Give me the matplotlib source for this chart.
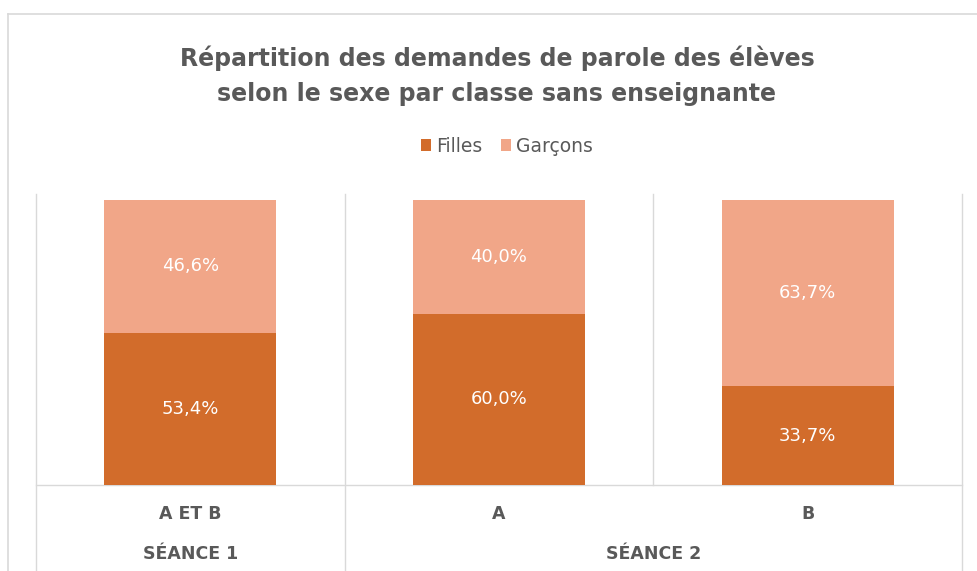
import matplotlib
matplotlib.use("Agg")
import matplotlib.pyplot as plt
from matplotlib.lines import Line2D
import matplotlib.transforms as mtrans
import numpy as np

# ---- data ----
categories = ["A ET B", "A", "B"]
groups = ["SÉANCE 1", "SÉANCE 2"]
group_spans = [(0, 0), (1, 2)]
series_names = ["Filles", "Garçons"]
filles = [53.4, 60.0, 33.7]
garcons = [46.6, 40.0, 63.7]
title = "Répartition des demandes de parole des élèves\nselon le sexe par classe sans enseignante"

# ---- style ----
C_F = "#D26C2B"
C_G = "#F1A688"
TXT = "#595959"
GRID = "#D9D9D9"

W, H = 977, 571
fig = plt.figure(figsize=(W / 100, H / 100), dpi=100)
fig.patch.set_facecolor("white")

x0, x1 = 36, 962
ytop, ybot = 200, 485
ax = fig.add_axes([x0 / W, 1 - ybot / H, (x1 - x0) / W, (ybot - ytop) / H])
ax.set_xlim(-0.5, 2.5)
ax.set_ylim(0, 1)
ax.axis("off")

f = np.array(filles)
g = np.array(garcons)
tot = f + g
fn = f / tot
gn = g / tot
x = np.arange(len(categories))
bw = 0.557
b1 = ax.bar(x, fn, bw, color=C_F, label=series_names[0], zorder=3)
b2 = ax.bar(x, gn, bw, bottom=fn, color=C_G, label=series_names[1], zorder=3)

def fmt(v):
    return f"{v:.1f}%".replace(".", ",")

for xi, a, b, va, vb in zip(x, fn, gn, f, g):
    ax.text(xi, a / 2, fmt(va), ha="center", va="center", color="white",
            fontsize=13, zorder=4)
    ax.text(xi, a + b / 2, fmt(vb), ha="center", va="center", color="white",
            fontsize=13, zorder=4)

# separators and axis line
trans = mtrans.blended_transform_factory(ax.transData, ax.transAxes)
ph = ybot - ytop
y_up = 1 + 6 / ph
y_fig_bottom = -(H - ybot) / ph
for xs, full in [(-0.5, True), (0.5, True), (1.5, False), (2.5, True)]:
    ax.add_line(Line2D([xs, xs], [y_up, y_fig_bottom if full else 0],
                       transform=trans, color=GRID, lw=1.0, clip_on=False, zorder=1))
ax.add_line(Line2D([-0.5, 2.5], [0, 0], transform=trans, color=GRID, lw=1.0,
                   clip_on=False, zorder=1))

# category labels
y_cat = -(514 - ybot) / ph
y_grp = -(554 - ybot) / ph
for xi, c in zip(x, categories):
    ax.text(xi, y_cat, c, transform=trans, ha="center", va="center",
            color=TXT, fontsize=12.5, fontweight="bold")
for gname, (a, b) in zip(groups, group_spans):
    ax.text((a + b) / 2, y_grp, gname, transform=trans, ha="center", va="center",
            color=TXT, fontsize=12.5, fontweight="bold")

# outer chart border
fig.add_artist(Line2D([8 / W, 1], [1 - 14 / H, 1 - 14 / H], transform=fig.transFigure,
                      color=GRID, lw=1.2))
fig.add_artist(Line2D([8 / W, 8 / W], [1 - 14 / H, 0], transform=fig.transFigure,
                      color=GRID, lw=1.2))

# title
fig.text(497 / W, 1 - 76 / H, title, ha="center", va="center", color=TXT,
         fontsize=17, fontweight="bold", linespacing=1.6)

# legend
fig.legend(handles=[b1, b2], labels=series_names, loc="center",
           bbox_to_anchor=(507 / W, 1 - 146 / H), ncol=2, frameon=False,
           handlelength=0.55, handleheight=0.55, columnspacing=1.0,
           handletextpad=0.25, fontsize=13.5, labelcolor=TXT)

fig.savefig("out.png", dpi=100, facecolor="white")
